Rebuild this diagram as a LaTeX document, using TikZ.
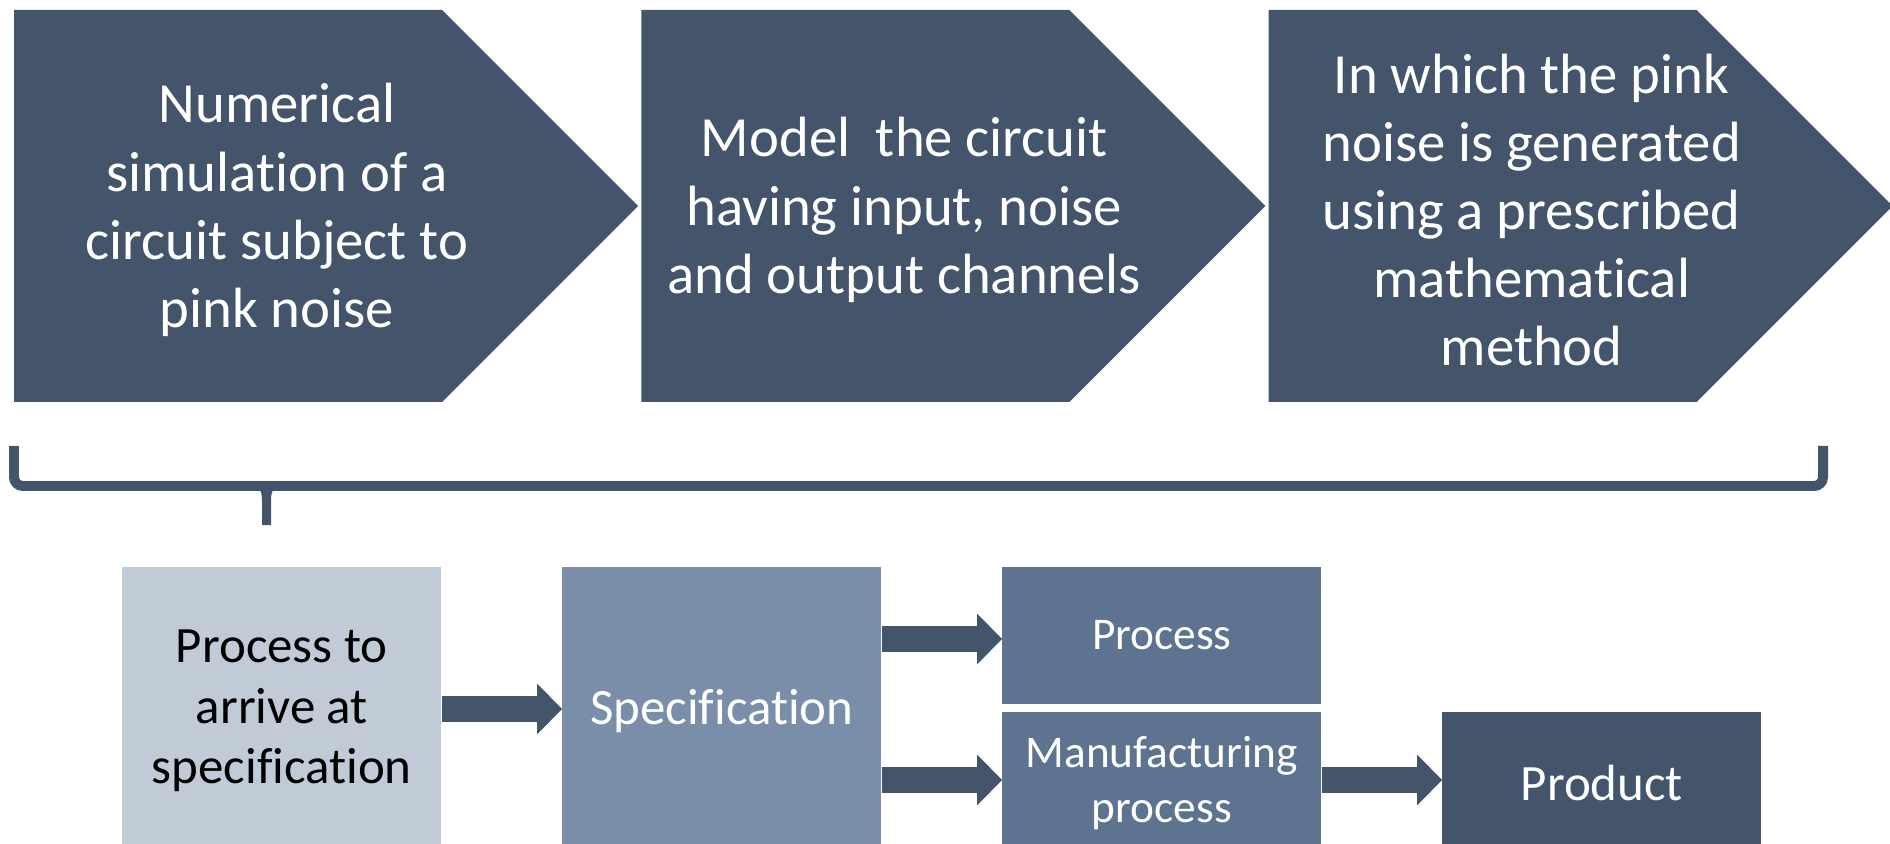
\documentclass[tikz,border=0pt]{standalone}
\usepackage{fontspec}
\setmainfont{Carlito}[Ligatures=NoCommon]
\usetikzlibrary{arrows.meta}
\definecolor{slate}{HTML}{44546A}
\definecolor{slatelight}{HTML}{C1CBD8}
\definecolor{slatemid}{HTML}{7A8EA9}
\definecolor{slatedeep}{HTML}{5E7390}

\begin{document}
\begin{tikzpicture}[x=0.02cm, y=-0.02cm,
    chevtext/.style={text=white, align=center, font=\fontsize{32.3pt}{38.8pt}\selectfont},
    block/.style={anchor=north west, inner sep=0pt, minimum width=6.38cm, align=center, text=white, font=\fontsize{29pt}{34.6pt}\selectfont},
    smalltext/.style={font=\fontsize{25.8pt}{31pt}\selectfont},
    fatarrow/.style={draw=slate, line width=0.52cm, -{Triangle[length=0.5cm, width=1.02cm, line width=0pt]}}]
    \useasboundingbox (0,0) rectangle (1890,844);
    \clip (0,0) rectangle (1890,844);

    % top row of chevrons
    \foreach \i/\txt in {0/{Numerical\\simulation of a\\circuit subject to\\pink noise},
                         1/{Model~ the circuit\\having input, noise\\and output channels},
                         2/{In which the pink\\noise is generated\\using a prescribed\\mathematical\\method}} {
        \fill[slate] (14+627.3*\i,10) -- ++(428,0) -- ++(196,196) -- ++(-196,196) -- ++(-428,0) -- cycle;
        \node[chevtext] (chev\i) at (277+627.3*\i,210) {\txt};
    }

    % brace
    \draw[slate, line width=0.2cm, rounded corners=5pt] (14,446) -- (14,486) -- (1823,486) -- (1823,446);
    \fill[slate] (250,486) .. controls (261,487) and (262,492) .. (262,502) -- (262,525) -- (271,525)
        -- (271,502) .. controls (271,492) and (272,487) .. (283,486) -- cycle;

    % bottom row
    \node[block, fill=slatelight, text=black, minimum height=5.76cm] (prep) at (122,566.5) {Process to\\arrive at\\specification};
    \node[block, fill=slatemid, minimum height=5.76cm] (spec) at (562,566.5) {Specification};
    \node[block, smalltext, fill=slatedeep, minimum height=2.74cm] (proc) at (1002,566.5) {Process};
    \node[block, smalltext, fill=slatedeep, minimum height=2.82cm] (manuf) at (1002,712) {Manufacturing\\process};
    \node[block, fill=slate, minimum height=2.82cm] (product) at (1442,712) {Product};

    \draw[fatarrow] (prep.east |- 0,709) -- (spec.west |- 0,709);
    \draw[fatarrow] (spec.east |- 0,639) -- (proc.west |- 0,639);
    \draw[fatarrow] (spec.east |- 0,780) -- (manuf.west |- 0,780);
    \draw[fatarrow] (manuf.east |- 0,780) -- (product.west |- 0,780);
\end{tikzpicture}
\end{document}
